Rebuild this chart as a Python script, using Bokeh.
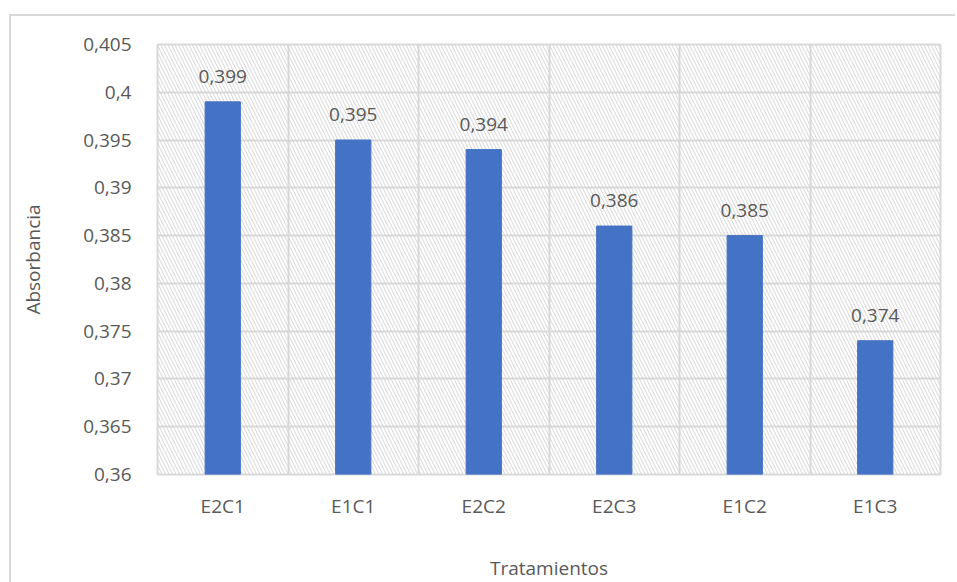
from bokeh.plotting import figure
from bokeh.models import ColumnDataSource, FixedTicker, BoxAnnotation, LabelSet, Range1d
from bokeh.core.properties import value
from bokeh.embed import file_html
from bokeh.resources import INLINE

categories = ["E2C1", "E1C1", "E2C2", "E2C3", "E1C2", "E1C3"]
values = [0.399, 0.395, 0.394, 0.386, 0.385, 0.374]
labels = ["0,399", "0,395", "0,394", "0,386", "0,385", "0,374"]
y_ticks = [0.36, 0.365, 0.37, 0.375, 0.38, 0.385, 0.39, 0.395, 0.4, 0.405]
y_tick_labels = ["0,36", "0,365", "0,37", "0,375", "0,38", "0,385", "0,39", "0,395", "0,4", "0,405"]

FONT = "Open Sans"
GREY = "#595959"
GRID = "#d9d9d9"

x = [i + 0.5 for i in range(len(categories))]
src = ColumnDataSource(dict(x=x, top=values, lab=labels, cat=categories))

p = figure(frame_width=783, frame_height=430, output_backend="svg", toolbar_location=None,
           x_range=Range1d(0, len(categories)), y_range=Range1d(0.36, 0.405),
           min_border_left=146, min_border_right=15, min_border_top=28, min_border_bottom=80)
p.margin = (14, 0, 0, 9)
p.styles = {"border-left": "2px solid #d9d9d9", "border-top": "2px solid #d9d9d9"}

p.add_layout(BoxAnnotation(left=0, right=len(categories), bottom=0.36, top=0.405,
                           fill_alpha=0, line_alpha=0, hatch_pattern="\\",
                           hatch_color="#d6d6d6", hatch_scale=7, hatch_weight=1,
                           level="underlay"))

p.vbar(x="x", top="top", bottom=0.36, width=0.27, source=src, color="#4472C4")

p.add_layout(LabelSet(x="x", y="top", text="lab", source=src, text_align="center",
                      text_baseline="bottom", y_offset=19, text_font=value(FONT),
                      text_font_size="19px", text_color=GREY))

p.xaxis.ticker = FixedTicker(ticks=x)
p.xaxis.major_label_overrides = {xx: c for xx, c in zip(x, categories)}
p.yaxis.ticker = FixedTicker(ticks=y_ticks)
p.yaxis.major_label_overrides = {t: l for t, l in zip(y_ticks, y_tick_labels)}

for ax in (p.xaxis[0], p.yaxis[0]):
    ax.axis_line_color = None
    ax.major_tick_line_color = None
    ax.minor_tick_line_color = None
    ax.major_label_text_font = FONT
    ax.major_label_text_font_size = "19px"
    ax.major_label_text_color = GREY
    ax.axis_label_text_font = FONT
    ax.axis_label_text_font_size = "19px"
    ax.axis_label_text_color = GREY
    ax.axis_label_text_font_style = "normal"

p.xaxis.major_label_standoff = 12
p.yaxis.major_label_standoff = 20
p.xaxis.axis_label = "Tratamientos"
p.yaxis.axis_label = "Absorbancia"
p.xaxis.axis_label_standoff = 33
p.yaxis.axis_label_standoff = 34

p.xgrid.ticker = FixedTicker(ticks=list(range(len(categories) + 1)))
p.ygrid.ticker = FixedTicker(ticks=y_ticks)
for g in (p.xgrid[0], p.ygrid[0]):
    g.grid_line_color = GRID
    g.grid_line_width = 2

p.outline_line_color = GRID
p.outline_line_width = 2
p.background_fill_color = "white"
p.border_fill_color = "white"

open("out.html", "w").write(file_html(p, INLINE))
